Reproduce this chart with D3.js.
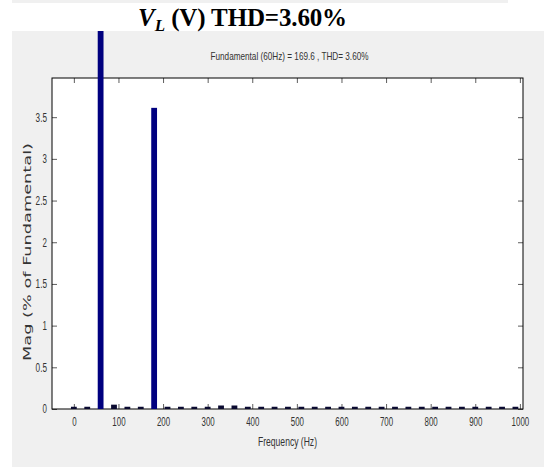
<!DOCTYPE html>
<html>
<head>
<meta charset="utf-8">
<script src="https://cdn.jsdelivr.net/npm/d3@7"></script>
<style>
  body { margin: 0; background: #fff; }
  svg { display: block; }
</style>
</head>
<body>
<svg id="chart"></svg>
<script>
// harmonic bins (Hz) and magnitudes (% of fundamental)
const freqs = [0, 30, 60, 90, 120, 150, 180, 210, 240, 270, 300, 330, 360, 390, 420, 450, 480,
  510, 540, 570, 600, 630, 660, 690, 720, 750, 780, 810, 840, 870, 900, 930, 960, 990];
const mags = [0.015, 0.015, 100, 0.04, 0.015, 0.015, 3.6, 0.015, 0.015, 0.015, 0.015, 0.03, 0.03,
  0.015, 0.015, 0.015, 0.015, 0.015, 0.015, 0.015, 0.015, 0.015, 0.015, 0.015, 0.015, 0.015,
  0.015, 0.015, 0.015, 0.015, 0.015, 0.015, 0.015, 0.015];
const xTicks = [0, 100, 200, 300, 400, 500, 600, 700, 800, 900, 1000];
const yTicks = [0, 0.5, 1, 1.5, 2, 2.5, 3, 3.5];

const W = 544, H = 467;
const plot = { left: 52, right: 523, top: 78, bottom: 409 };
const barW = 13; // Hz

const svg = d3.select("#chart").attr("width", W).attr("height", H);

// grey figure panel
svg.append("rect").attr("x", 12).attr("y", 0).attr("width", 496).attr("height", 3).attr("fill", "#f0f0f0");
svg.append("rect").attr("x", 12).attr("y", 31).attr("width", W - 12).attr("height", H - 31).attr("fill", "#f0f0f0");

// title
const title = svg.append("text")
  .attr("x", 138).attr("y", 26)
  .style("font-family", "'Liberation Serif', 'Times New Roman', serif")
  .style("font-weight", "bold")
  .style("font-size", "25px")
  .attr("fill", "#000");
title.append("tspan").style("font-style", "italic").text("V");
title.append("tspan").style("font-style", "italic").style("font-size", "17px").attr("dy", 5).text("L");
title.append("tspan").attr("dy", -5).attr("textLength", 182).attr("lengthAdjust", "spacing")
  .text(" (V) THD=3.60%");

const x = d3.scaleLinear().domain([-49, 1007]).range([plot.left, plot.right]);
const y = d3.scaleLinear().domain([0, 3.97]).range([plot.bottom, plot.top]);

// plot area
svg.append("rect")
  .attr("x", plot.left).attr("y", plot.top)
  .attr("width", plot.right - plot.left).attr("height", plot.bottom - plot.top)
  .attr("fill", "#fff");

svg.append("defs").append("clipPath").attr("id", "clip")
  .append("rect")
  .attr("x", plot.left).attr("y", 31)
  .attr("width", plot.right - plot.left).attr("height", plot.bottom - 31 + 1);

const data = freqs.map((f, i) => ({ f, v: mags[i] }));

// narrow tick label width
const narrow = s => s.split("").reduce((a, c) => a + (c === "." ? 2.6 : 4.4), 0);

const gx = svg.append("g").attr("transform", `translate(0,${plot.bottom})`)
  .call(d3.axisBottom(x).tickValues(xTicks).tickSizeInner(-5).tickSizeOuter(0).tickPadding(8)
    .tickFormat(d => String(d)));
const gxTop = svg.append("g").attr("transform", `translate(0,${plot.top})`)
  .call(d3.axisTop(x).tickValues(xTicks).tickSizeInner(-5).tickSizeOuter(0).tickFormat(""));
const gy = svg.append("g").attr("transform", `translate(${plot.left},0)`)
  .call(d3.axisLeft(y).tickValues(yTicks).tickSizeInner(-5).tickSizeOuter(0).tickPadding(5)
    .tickFormat(d => String(d)));
const gyR = svg.append("g").attr("transform", `translate(${plot.right},0)`)
  .call(d3.axisRight(y).tickValues(yTicks).tickSizeInner(-5).tickSizeOuter(0).tickFormat(""));

[gx, gxTop, gy, gyR].forEach(g => {
  g.select(".domain").remove();
  g.selectAll(".tick line").attr("stroke", "#333").attr("stroke-width", 0.8);
});
[gx, gy].forEach(g => {
  g.selectAll(".tick text")
    .attr("fill", "#333")
    .style("font-family", "'Liberation Sans Narrow', 'Liberation Sans', Arial, sans-serif")
    .style("font-size", "12px")
    .attr("textLength", function () { return narrow(this.textContent); })
    .attr("lengthAdjust", "spacingAndGlyphs");
});

// box
svg.append("rect")
  .attr("x", plot.left).attr("y", plot.top)
  .attr("width", plot.right - plot.left).attr("height", plot.bottom - plot.top)
  .attr("fill", "none").attr("stroke", "#000").attr("stroke-width", 1);

// bars
svg.append("g").attr("clip-path", "url(#clip)")
  .selectAll("rect")
  .data(data)
  .enter()
  .append("rect")
  .attr("x", d => x(d.f - barW / 2))
  .attr("width", d => x(d.f + barW / 2) - x(d.f - barW / 2))
  .attr("y", d => y(d.v) - 1)
  .attr("height", d => y(0) - y(d.v) + 1)
  .attr("fill", d => d.v > 1 ? "#00007f" : "#0a0a30");

// subtitle
svg.append("text")
  .attr("x", (plot.left + plot.right) / 2 + 2).attr("y", 60)
  .attr("text-anchor", "middle")
  .attr("fill", "#333")
  .style("font-family", "'Liberation Sans Narrow', 'Liberation Sans', Arial, sans-serif")
  .style("font-size", "11px")
  .attr("textLength", 158).attr("lengthAdjust", "spacingAndGlyphs")
  .text("Fundamental (60Hz) = 169.6 , THD= 3.60%");

// axis labels
svg.append("text")
  .attr("x", (plot.left + plot.right) / 2).attr("y", 446)
  .attr("text-anchor", "middle")
  .attr("fill", "#333")
  .style("font-family", "'Liberation Sans Narrow', 'Liberation Sans', Arial, sans-serif")
  .style("font-size", "12px")
  .attr("textLength", 59).attr("lengthAdjust", "spacingAndGlyphs")
  .text("Frequency (Hz)");

svg.append("text")
  .attr("transform", "translate(31,252) rotate(-90)")
  .attr("text-anchor", "middle")
  .attr("fill", "#333")
  .style("font-family", "'DejaVu Sans', Verdana, sans-serif")
  .style("font-size", "11px")
  .attr("textLength", 218).attr("lengthAdjust", "spacingAndGlyphs")
  .text("Mag (% of Fundamental)");
</script>
</body>
</html>
